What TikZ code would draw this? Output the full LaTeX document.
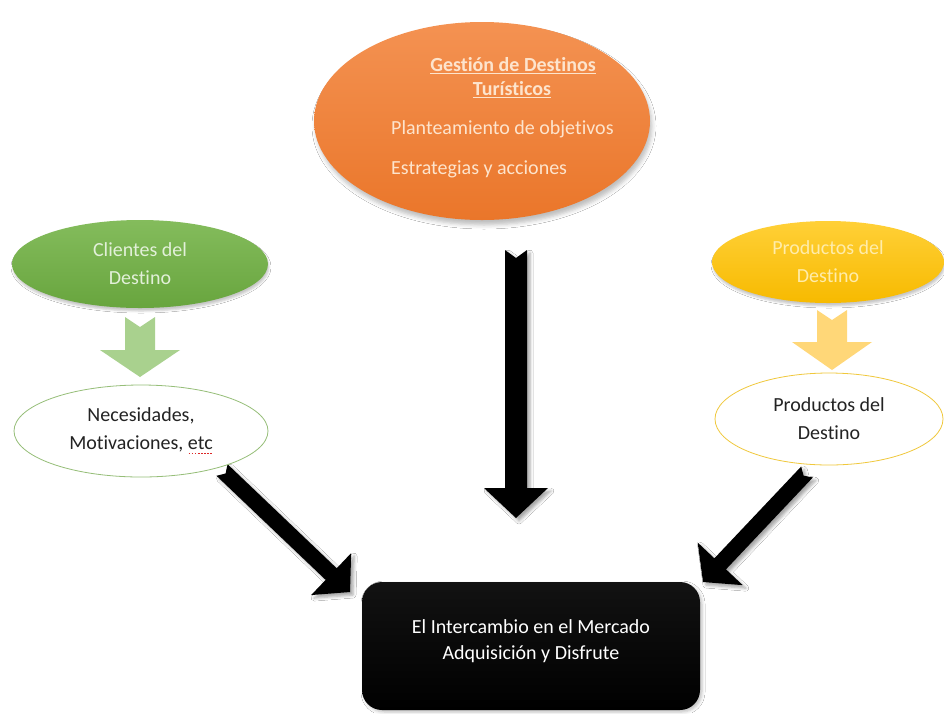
\documentclass[tikz,border=0pt]{standalone}
\usepackage{fontspec}
\setmainfont{Carlito}[Ligatures={TeX,NoCommon}]
\usetikzlibrary{shapes.geometric,calc,shadows.blur}

\definecolor{orangetop}{RGB}{244,146,82}
\definecolor{orangebot}{RGB}{234,118,42}
\definecolor{orangetext}{RGB}{253,228,205}
\definecolor{greentop}{RGB}{132,188,92}
\definecolor{greenbot}{RGB}{104,165,62}
\definecolor{greentext}{RGB}{226,240,217}
\definecolor{yellowtop}{RGB}{255,208,55}
\definecolor{yellowbot}{RGB}{247,186,0}
\definecolor{yellowtext}{RGB}{255,236,170}
\definecolor{greenarrow}{RGB}{169,209,142}
\definecolor{yellowarrow}{RGB}{255,215,120}
\definecolor{greenline}{RGB}{150,190,120}
\definecolor{yellowline}{RGB}{240,200,60}
\definecolor{inktext}{RGB}{35,35,35}
\definecolor{spellred}{RGB}{220,40,40}

% block arrow: style, tail, tip, shaft half-width, head half-width, head length, tail notch
\newcommand{\blockarrow}[7]{%
  \coordinate (ba-h) at ($(#3)!#6!(#2)$);
  \coordinate (ba-n) at ($(#2)!#7!(#3)$);
  \path[#1] ($(#2)!#4!90:(#3)$) -- (ba-n) -- ($(#2)!#4!-90:(#3)$)
    -- ($(ba-h)!#4!-90:(#3)$) -- ($(ba-h)!#5!-90:(#3)$) -- (#3)
    -- ($(ba-h)!#5!90:(#3)$) -- ($(ba-h)!#4!90:(#3)$) -- cycle;
}

% red dotted spelling mark under a word
\newcommand{\spellmark}[1]{\setbox0\hbox{#1}%
  \rlap{\raisebox{-4.5pt}{\textcolor{spellred}{\hbox to \wd0{\xleaders\hbox to 3pt{\hss\rule{1.6pt}{1.4pt}\hss}\hfill}}}}#1}

\tikzset{
  bubble/.style={ellipse, inner sep=0pt, align=center,
    font=\fontsize{20}{28}\selectfont},
  softshadow/.style={blur shadow={shadow xshift=2pt, shadow yshift=-5pt,
    shadow blur radius=4pt, shadow opacity=25}},
  lightshadow/.style={blur shadow={shadow xshift=1pt, shadow yshift=-3pt,
    shadow blur radius=2pt, shadow opacity=22}},
  darkarrow/.style={fill=black, blur shadow={shadow xshift=3pt, shadow yshift=-3pt,
    shadow blur radius=3pt, shadow opacity=35}},
  txt/.style={font=\fontsize{20}{28}\selectfont, inner sep=0pt},
}

\begin{document}
\begin{tikzpicture}[x=1pt, y=-1pt]
\useasboundingbox (0,0) rectangle (944,713);
\fill[white] (0,0) rectangle (944,713);

% coordinates for the block arrows
\coordinate (cA) at (516,250);   \coordinate (cB) at (516,518);
\coordinate (gA) at (140,317);   \coordinate (gB) at (140,377);
\coordinate (yA) at (832,310);   \coordinate (yB) at (832,370);
\coordinate (lA) at (222,470);   \coordinate (lB) at (350,592);
\coordinate (rA) at (807,472);   \coordinate (rB) at (703,582);

% black arrows towards the market
\blockarrow{darkarrow}{cA}{cB}{11pt}{32pt}{30pt}{8pt}
\blockarrow{darkarrow}{lA}{lB}{8pt}{29pt}{26pt}{5pt}
\blockarrow{darkarrow}{rA}{rB}{8pt}{31pt}{25pt}{5pt}

% top ellipse: destination management
\node[bubble, minimum width=336pt, minimum height=198pt,
      top color=orangetop, bottom color=orangebot, softshadow] (gestion) at (482,121) {};
\node[txt, anchor=mid, text=orangetext, font=\fontsize{20}{28}\selectfont\bfseries]
      (gtitle1) at (513,69) {\underline{Gestión de Destinos}};
\node[txt, anchor=mid, text=orangetext, font=\fontsize{20}{28}\selectfont\bfseries]
      (gtitle2) at (512,93) {\underline{Turísticos}};
\node[txt, anchor=mid west, text=orangetext] (gobj) at (391,132) {Planteamiento de objetivos};
\node[txt, anchor=mid west, text=orangetext] (gestr) at (391,172) {Estrategias y acciones};

% clients
\node[bubble, minimum width=256pt, minimum height=88pt,
      top color=greentop, bottom color=greenbot, text=greentext, lightshadow]
      (clientes) at (140,264) {Clientes del\\Destino};
\blockarrow{fill=greenarrow}{gA}{gB}{15pt}{40pt}{27pt}{10pt}
\node[bubble, minimum width=254pt, minimum height=92pt, fill=white,
      draw=greenline, line width=0.8pt, text=inktext]
      (necesidades) at (141,431) {Necesidades,\\Motivaciones, \spellmark{etc}};

% products
\node[bubble, minimum width=232pt, minimum height=82pt,
      top color=yellowtop, bottom color=yellowbot, text=yellowtext, lightshadow]
      (productos) at (828,262) {Productos del\\Destino};
\blockarrow{fill=yellowarrow}{yA}{yB}{15pt}{40pt}{28pt}{10pt}
\node[bubble, minimum width=228pt, minimum height=92pt, fill=white,
      draw=yellowline, line width=0.8pt, text=inktext]
      (oferta) at (829,419) {Productos del\\Destino};

% market exchange
\node[rounded corners=20pt, minimum width=338pt, minimum height=128pt,
      top color=black!93, bottom color=black, inner sep=0pt,
      blur shadow={shadow xshift=2pt, shadow yshift=-2pt, shadow blur radius=3pt, shadow opacity=25}]
      (mercado) at (531,646) {};
\node[txt, align=center, text=white, font=\fontsize{20}{26}\selectfont]
      (mercadotxt) at (531,641) {El Intercambio en el Mercado\\Adquisición y Disfrute};
\end{tikzpicture}
\end{document}
